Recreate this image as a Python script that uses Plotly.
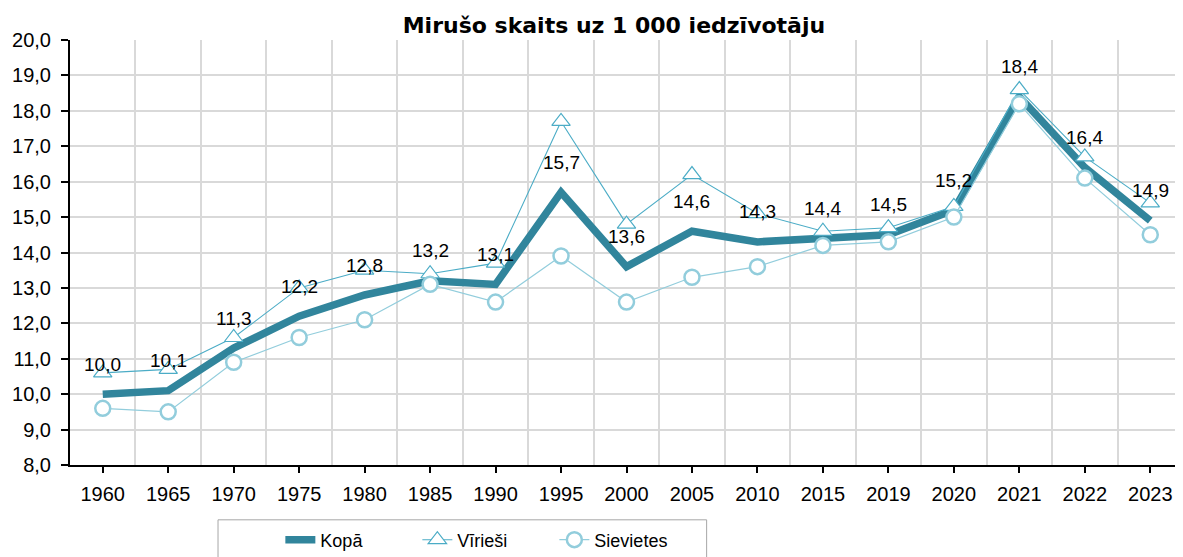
import plotly.graph_objects as go

years = ["1960", "1965", "1970", "1975", "1980", "1985", "1990", "1995", "2000",
         "2005", "2010", "2015", "2019", "2020", "2021", "2022", "2023"]
kopa = [10.0, 10.1, 11.3, 12.2, 12.8, 13.2, 13.1, 15.7, 13.6,
        14.6, 14.3, 14.4, 14.5, 15.2, 18.4, 16.4, 14.9]
viriesi = [10.6, 10.7, 11.6, 13.0, 13.5, 13.4, 13.7, 17.7, 14.8,
           16.2, 15.1, 14.6, 14.7, 15.3, 18.6, 16.7, 15.4]
sievietes = [9.6, 9.5, 10.9, 11.6, 12.1, 13.1, 12.6, 13.9, 12.6,
             13.3, 13.6, 14.2, 14.3, 15.0, 18.2, 16.1, 14.5]

title_text = "Mirušo skaits uz 1 000 iedzīvotāju"
names = ["Kopā", "Vīrieši", "Sievietes"]

C_TOTAL = "#31859C"
C_MEN = "#4BACC6"
C_WOMEN = "#92CDDC"
FONT = "Liberation Sans, Arial, sans-serif"

idx = list(range(len(years)))

fig = go.Figure()
fig.add_trace(go.Scatter(
    x=idx, y=kopa, name=names[0], mode="lines",
    line=dict(color=C_TOTAL, width=7.5),
))
fig.add_trace(go.Scatter(
    x=idx, y=viriesi, name=names[1], mode="lines+markers",
    line=dict(color=C_MEN, width=1.1),
    marker=dict(symbol="triangle-up", size=16, color="white",
                line=dict(color=C_MEN, width=1.2)),
))
fig.add_trace(go.Scatter(
    x=idx, y=sievietes, name=names[2], mode="lines+markers",
    line=dict(color=C_WOMEN, width=1.2),
    marker=dict(symbol="circle", size=15, color="white",
                line=dict(color=C_WOMEN, width=2.5)),
))

for i, v in zip(idx, kopa):
    fig.add_annotation(
        x=i, y=v, text=f"{v:.1f}".replace(".", ","), showarrow=False,
        yshift=30, font=dict(family=FONT, size=19, color="black"),
    )

# legend frame
fig.add_shape(type="rect", xref="paper", yref="paper",
              x0=0.133, x1=0.572, y0=-0.129, y1=-0.35,
              line=dict(color="#A6A6A6", width=1), fillcolor="rgba(0,0,0,0)")

fig.update_layout(
    width=1175, height=549,
    margin=dict(l=62, r=0, t=32, b=92, autoexpand=False),
    paper_bgcolor="white", plot_bgcolor="white",
    separators=", ",
    font=dict(family=FONT, size=20, color="black"),
    title=dict(text=title_text, x=0.5157, xref="container", xanchor="center",
               y=0.969, yref="container", yanchor="middle",
               font=dict(family="DejaVu Sans, sans-serif", size=22, color="black",
                         weight="bold")),
    showlegend=True,
    legend=dict(orientation="h", x=0.189, xanchor="left",
                y=0.031, yref="container", yanchor="middle",
                entrywidth=92, entrywidthmode="pixels",
                font=dict(family=FONT, size=18, color="black"),
                bgcolor="rgba(0,0,0,0)", borderwidth=0),
    xaxis=dict(
        range=[-0.5, len(years) - 0.5], tickmode="array", tickvals=idx, ticktext=years,
        showgrid=False, zeroline=False,
        showline=True, linecolor="black", linewidth=2,
        ticks="outside", ticklen=6, tickwidth=1.5, tickcolor="black",
        ticklabelstandoff=4,
        tickfont=dict(family=FONT, size=20, color="black"),
        minor=dict(tickmode="array", tickvals=[i - 0.5 for i in range(1, len(years) + 1)],
                   showgrid=True, gridcolor="#D9D9D9", gridwidth=1.5, ticks=""),
        fixedrange=True,
    ),
    yaxis=dict(
        range=[8, 20], dtick=1, tick0=8, tickformat=".1f",
        showgrid=True, gridcolor="#D9D9D9", gridwidth=1.5, zeroline=False,
        showline=True, linecolor="black", linewidth=2,
        ticks="outside", ticklen=7, tickwidth=1.5, tickcolor="black",
        ticklabelstandoff=6,
        tickfont=dict(family=FONT, size=20, color="black"),
        fixedrange=True,
    ),
)

fig.write_html("out.html")
